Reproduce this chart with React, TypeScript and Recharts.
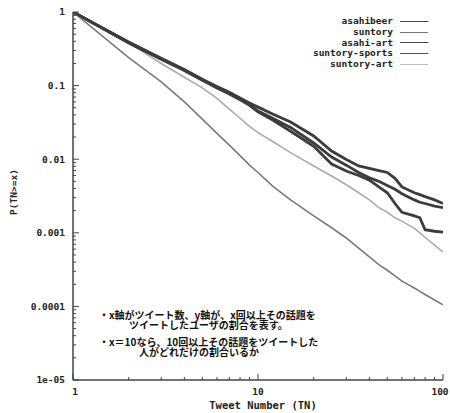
import React from "react";
import { LineChart, Line, XAxis, YAxis } from "recharts";

// tweet number (x) and cumulative share P(TN>=x) for each topic
const xValues = [1, 2, 3, 4, 5, 6, 7, 8, 9, 10, 12, 15, 20, 25, 30, 35, 40, 45, 50, 55, 60, 70, 75, 80, 90, 100];
const asahibeer = [1, 0.39, 0.235, 0.165, 0.122, 0.097, 0.081, 0.068, 0.058, 0.051, 0.041, 0.032, 0.0207, 0.0129, 0.0099, 0.0081, 0.0075, 0.007, 0.0066, 0.0055, 0.0042, 0.0035, 0.0033, 0.0031, 0.0028, 0.0025];
const suntory = [1, 0.24, 0.112, 0.06, 0.035, 0.0224, 0.0155, 0.0112, 0.0083, 0.0066, 0.0043, 0.0028, 0.0017, 0.00117, 0.00085, 0.00062, 0.00047, 0.00037, 0.00031, 0.00026, 0.00022, 0.000178, 0.00016, 0.000145, 0.000122, 0.000105];
const asahiArt = [1, 0.385, 0.23, 0.162, 0.12, 0.095, 0.079, 0.066, 0.055, 0.045, 0.036, 0.027, 0.0166, 0.0107, 0.0083, 0.0066, 0.0056, 0.005, 0.0044, 0.0039, 0.0034, 0.0028, 0.0026, 0.0025, 0.0023, 0.0022];
const suntorySports = [1, 0.38, 0.228, 0.16, 0.118, 0.093, 0.077, 0.064, 0.054, 0.044, 0.034, 0.024, 0.015, 0.0086, 0.0069, 0.006, 0.0052, 0.0042, 0.0035, 0.0025, 0.0019, 0.0017, 0.0016, 0.0011, 0.00105, 0.00102];
const suntoryArt = [1, 0.38, 0.2, 0.13, 0.093, 0.067, 0.048, 0.036, 0.028, 0.023, 0.0174, 0.0123, 0.0081, 0.0059, 0.0045, 0.0035, 0.0028, 0.0022, 0.0019, 0.0016, 0.00144, 0.00115, 0.001, 0.00087, 0.00068, 0.00055];

const xMajor = [1, 10, 100];
const xMajorLabels = ["1", "10", "100"];
const yMajor = [0.00001, 0.0001, 0.001, 0.01, 0.1, 1];
const yMajorLabels = ["1e-05", "0.0001", "0.001", "0.01", "0.1", "1"];

// two bullet notes, each wrapped onto two lines
const notes = [
  { text: "・x軸がツイート数、y軸が、x回以上その話題を\n\u3000\u3000\u3000ツイートしたユーザの割合を表す。", top: 309.5 },
  { text: "・x＝10なら、10回以上その話題をツイートした\n\u3000\u3000\u3000\u3000人がどれだけの割合いるか", top: 336.5 },
];

const series = [
  { key: "asahibeer", name: "asahibeer", values: asahibeer, color: "#3c3c3c", width: 2.8, legend: "#444" },
  { key: "suntory", name: "suntory", values: suntory, color: "#7a7a7a", width: 1.6, legend: "#777" },
  { key: "asahiArt", name: "asahi-art", values: asahiArt, color: "#3c3c3c", width: 2.8, legend: "#444" },
  { key: "suntorySports", name: "suntory-sports", values: suntorySports, color: "#3c3c3c", width: 2.8, legend: "#555" },
  { key: "suntoryArt", name: "suntory-art", values: suntoryArt, color: "#ababab", width: 1.6, legend: "#bbb" },
];

const data = xValues.map((x, i) => {
  const row: Record<string, number> = { x };
  series.forEach((s) => (row[s.key] = s.values[i]));
  return row;
});

// minor log ticks 2..9 in every decade
const minorTicks = (from: number, to: number) => {
  const out: number[] = [];
  for (let d = from; d < to; d *= 10) {
    for (let m = 1; m < 10; m++) out.push(+(m * d).toPrecision(3));
  }
  out.push(to);
  return out;
};
const xTicks = minorTicks(1, 100);
const yTicks = minorTicks(0.00001, 1);

const font = { fontFamily: "'DejaVu Sans Mono', monospace", fontWeight: "bold" as const, fontSize: 9.5 };
const frame = "#444";

const isMajor = (list: number[], v: number) => list.some((m) => Math.abs(m - v) / m < 1e-6);
const majorLabel = (list: number[], labels: string[], v: number) => labels[list.findIndex((m) => Math.abs(m - v) / m < 1e-6)];

const BottomTick = (props: any) => {
  const { x, y, payload } = props;
  const v = payload.value;
  const major = isMajor(xMajor, v);
  const axisY = y - 8;
  // keep the last label inside the picture
  const shift = v === 1 ? 2 : v === 100 ? -3 : 0;
  return (
    <g>
      <line x1={x} x2={x} y1={axisY} y2={axisY - (major ? 6 : 3)} stroke={frame} strokeWidth={1} />
      {major && (
        <text x={x + shift} y={y} dy="0.71em" textAnchor="middle" fill="#222" {...font}>
          {majorLabel(xMajor, xMajorLabels, v)}
        </text>
      )}
    </g>
  );
};

const TopTick = (props: any) => {
  const { x, y, payload } = props;
  const major = isMajor(xMajor, payload.value);
  return <line x1={x} x2={x} y1={y} y2={y + (major ? 6 : 3)} stroke={frame} strokeWidth={1} />;
};

const LeftTick = (props: any) => {
  const { x, y, payload } = props;
  const v = payload.value;
  const major = isMajor(yMajor, v);
  const axisX = x + 5;
  return (
    <g>
      <line x1={axisX} x2={axisX + (major ? 6 : 3)} y1={y} y2={y} stroke={frame} strokeWidth={1} />
      {major && (
        <text x={x - 3} y={y} dy="0.35em" textAnchor="end" fill="#222" {...font}>
          {majorLabel(yMajor, yMajorLabels, v)}
        </text>
      )}
    </g>
  );
};

const RightTick = (props: any) => {
  const { x, y, payload } = props;
  const major = isMajor(yMajor, payload.value);
  return <line x1={x} x2={x - (major ? 6 : 3)} y1={y} y2={y} stroke={frame} strokeWidth={1} />;
};

export default function App() {
  return (
    <div style={{ position: "absolute", left: 0, top: 0, width: 450, height: 413, background: "#fff", overflow: "hidden" }}>
      <LineChart width={450} height={413} data={data} margin={{ top: 12, right: 7, bottom: 13, left: 8 }}>
        <XAxis
          xAxisId="b"
          dataKey="x"
          type="number"
          scale="log"
          domain={[1, 100]}
          allowDataOverflow
          ticks={xTicks}
          interval={0}
          height={20}
          tickSize={0}
          tickMargin={8}
          tickLine={false}
          tick={<BottomTick />}
          axisLine={{ stroke: frame, strokeWidth: 1.5 }}
        />
        <XAxis
          xAxisId="t"
          orientation="top"
          mirror
          dataKey="x"
          type="number"
          scale="log"
          domain={[1, 100]}
          allowDataOverflow
          ticks={xTicks}
          interval={0}
          height={0}
          tickSize={0}
          tickMargin={0}
          tickLine={false}
          tick={<TopTick />}
          axisLine={{ stroke: frame, strokeWidth: 1.5 }}
        />
        <YAxis
          yAxisId="l"
          type="number"
          scale="log"
          domain={[0.00001, 1]}
          allowDataOverflow
          ticks={yTicks}
          interval={0}
          width={65}
          tickSize={0}
          tickMargin={5}
          tickLine={false}
          tick={<LeftTick />}
          axisLine={{ stroke: frame, strokeWidth: 1.5 }}
        />
        <YAxis
          yAxisId="r"
          orientation="right"
          mirror
          type="number"
          scale="log"
          domain={[0.00001, 1]}
          allowDataOverflow
          ticks={yTicks}
          interval={0}
          width={0}
          tickSize={0}
          tickMargin={0}
          tickLine={false}
          tick={<RightTick />}
          axisLine={{ stroke: frame, strokeWidth: 1.5 }}
        />
        {[...series].reverse().map((s) => (
          <Line
            key={s.key}
            xAxisId="b"
            yAxisId="l"
            dataKey={s.key}
            name={s.name}
            type="linear"
            stroke={s.color}
            strokeWidth={s.width}
            dot={false}
            isAnimationActive={false}
          />
        ))}
      </LineChart>

      {/* legend */}
      <div style={{ position: "absolute", top: 16.4, left: 250, width: 180, ...font, color: "#222" }}>
        {series.map((s) => (
          <div key={s.key} style={{ height: 10.6, lineHeight: "10.6px", display: "flex", alignItems: "center" }}>
            <span style={{ width: 143, textAlign: "right" }}>{s.name}</span>
            <span style={{ marginLeft: 7, width: 28, height: 0, borderTop: `1.5px solid ${s.legend}` }} />
          </div>
        ))}
      </div>

      {/* axis titles */}
      <div style={{ position: "absolute", left: 0, top: 399, width: 526, textAlign: "center", ...font, fontSize: 10.5, color: "#222" }}>
        Tweet Number (TN)
      </div>
      <div
        style={{
          position: "absolute",
          left: 13,
          top: 192,
          transform: "translate(-50%, -50%) rotate(-90deg)",
          whiteSpace: "nowrap",
          ...font,
          color: "#222",
        }}
      >
        P(TN&gt;=x)
      </div>

      {/* annotation */}
      {notes.map((n) => (
        <div
          key={n.text}
          style={{
            position: "absolute",
            left: 99,
            top: n.top,
            whiteSpace: "pre",
            fontFamily: "'Noto Sans CJK JP', sans-serif",
            fontWeight: "bold",
            fontSize: 10,
            lineHeight: "10.8px",
            color: "#111",
          }}
        >
          {n.text}
        </div>
      ))}
    </div>
  );
}
